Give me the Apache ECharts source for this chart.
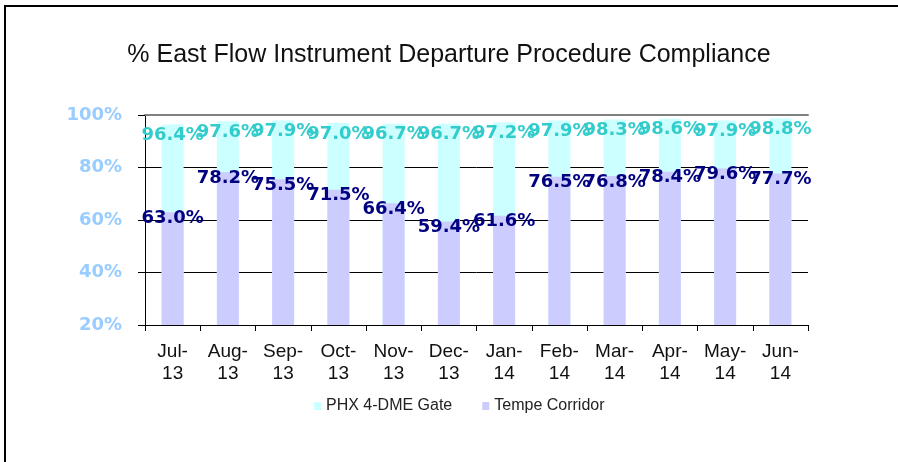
<!DOCTYPE html>
<html>
<head>
<meta charset="utf-8">
<script src="https://cdn.jsdelivr.net/npm/echarts@6/dist/echarts.min.js"></script>
<style>
  html, body { margin: 0; padding: 0; background: #fff; }
  #picture { width: 898px; height: 462px; }
</style>
</head>
<body>
<div id="picture"></div>
<script>
var months = ['Jul-13', 'Aug-13', 'Sep-13', 'Oct-13', 'Nov-13', 'Dec-13',
              'Jan-14', 'Feb-14', 'Mar-14', 'Apr-14', 'May-14', 'Jun-14'];
var phxGate = [96.4, 97.6, 97.9, 97.0, 96.7, 96.7, 97.2, 97.9, 98.3, 98.6, 97.9, 98.8];
var tempeCorridor = [63.0, 78.2, 75.5, 71.5, 66.4, 59.4, 61.6, 76.5, 76.8, 78.4, 79.6, 77.7];
var seriesNames = ['PHX 4-DME Gate', 'Tempe Corridor'];

function pct(p) {
    return p.value.toFixed(1) + '%';
}

var myChart = echarts.init(document.getElementById('picture'));
var option = {
    backgroundColor: '#ffffff',
    animation: false,
    title: {
        text: '% East Flow Instrument Departure Procedure Compliance',
        left: 'center',
        top: 38,
        textStyle: {
            fontFamily: 'Liberation Sans, Arial',
            fontSize: 25,
            fontWeight: 'normal',
            color: '#111'
        }
    },
    legend: {
        data: seriesNames,
        left: 309,
        top: 393,
        itemWidth: 7,
        itemHeight: 8,
        itemGap: 30,
        icon: 'rect',
        textStyle: {
            fontFamily: 'Liberation Sans, Arial',
            fontSize: 16,
            color: '#222'
        }
    },
    grid: { left: 145, right: 90, top: 115, bottom: 137 },
    xAxis: [{
        type: 'category',
        data: months,
        axisLine: { lineStyle: { color: '#000', width: 1 } },
        axisTick: { show: true, length: 6, lineStyle: { color: '#000' } },
        axisLabel: {
            margin: 16,
            fontFamily: 'Liberation Sans, Arial',
            fontSize: 19,
            lineHeight: 22,
            color: '#111',
            formatter: function (v) { return v.replace('-', '-\n'); }
        }
    }, {
        type: 'category',
        data: months,
        position: 'top',
        axisLine: { lineStyle: { color: '#808080', width: 2 } },
        axisTick: { show: false },
        axisLabel: { show: false }
    }],
    yAxis: {
        type: 'value',
        min: 20,
        max: 100,
        interval: 20,
        axisLine: { show: true, lineStyle: { color: '#000' } },
        axisTick: { show: true, length: 7, lineStyle: { color: '#000' } },
        splitLine: { lineStyle: { color: '#000', width: 1 } },
        axisLabel: {
            margin: 23,
            formatter: '{value}%',
            fontFamily: 'DejaVu Sans',
            fontWeight: 'bold',
            fontSize: 18,
            color: '#99CCFF'
        }
    },
    color: ['#CCFFFF', '#CCCCFF'],
    series: [
        {
            name: seriesNames[0],
            type: 'bar',
            data: phxGate,
            barWidth: 22,
            barGap: '-100%',
            label: {
                show: true,
                position: 'insideTop',
                distance: 2,
                formatter: pct,
                fontFamily: 'DejaVu Sans',
                fontWeight: 'bold',
                fontSize: 18,
                color: '#33CCCC'
            }
        },
        {
            name: seriesNames[1],
            type: 'bar',
            data: tempeCorridor,
            barWidth: 22,
            barGap: '-100%',
            label: {
                show: true,
                position: 'insideTop',
                distance: 0,
                offset: [0, -3],
                formatter: pct,
                fontFamily: 'DejaVu Sans',
                fontWeight: 'bold',
                fontSize: 18,
                color: '#000080'
            }
        }
    ],
    graphic: [{
        type: 'polyline',
        shape: { points: [[5, 462], [5, 6], [898, 6]] },
        style: { stroke: '#000', lineWidth: 2, fill: null }
    }]
};
myChart.setOption(option);
</script>
</body>
</html>
